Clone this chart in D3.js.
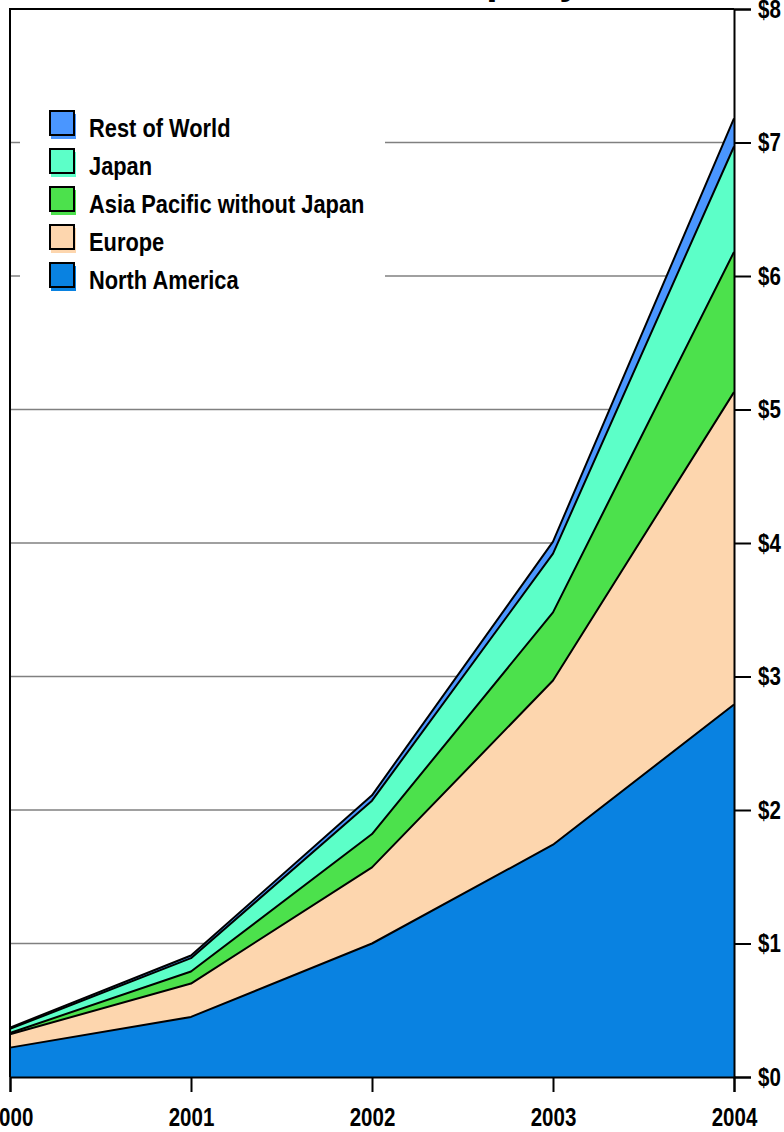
<!DOCTYPE html>
<html>
<head>
<meta charset="utf-8">
<script src="https://cdn.jsdelivr.net/npm/d3@7"></script>
<style>
  body { margin: 0; background: #fff; }
  svg text { font-family: "Liberation Sans", Arial, sans-serif; font-weight: bold; }
</style>
</head>
<body>
<div class="canvas"></div>
<script>
// data (billions of $)
const years = [2000, 2001, 2002, 2003, 2004];
const regions = ['North America', 'Europe', 'Asia Pacific without Japan', 'Japan', 'Rest of World'];
const northAmerica = [0.22, 0.45, 1.00, 1.74, 2.79];
const europe = [0.10, 0.25, 0.57, 1.23, 2.34];
const asiaPacific = [0.01, 0.09, 0.25, 0.51, 1.05];
const japan = [0.03, 0.10, 0.25, 0.44, 0.79];
const restOfWorld = [0.01, 0.02, 0.04, 0.09, 0.21];
const yTicks = [0, 1, 2, 3, 4, 5, 6, 7, 8];
const colors = ['#0982e1', '#fdd6ae', '#4ce14c', '#5cffc8', '#4a96ff'];

const seriesValues = [northAmerica, europe, asiaPacific, japan, restOfWorld];
const table = years.map((yr, i) => {
  const row = {year: yr};
  regions.forEach((r, j) => { row[r] = seriesValues[j][i]; });
  return row;
});

// no narrow font installed, so squeeze Liberation Sans Bold like Arial Narrow
const narrow = 0.82;

const svg = d3.select('.canvas')
  .append('svg')
    .attr('width', 784)
    .attr('height', 1132);

//plot box
const box = {left: 10, right: 734, top: 9, bottom: 1077};

const x = d3.scaleLinear()
  .domain([2000, 2004])
  .range([box.left, box.right]);
const y = d3.scaleLinear()
  .domain([0, 8])
  .range([box.bottom, box.top]);

// title, mostly off the top edge
svg.append('text')
  .attr('transform', `translate(582, -8) scale(${narrow}, 1)`)
  .attr('text-anchor', 'end')
  .attr('font-size', 50)
  .text('Worldwide Revenue of the Company');

// gridlines
svg.append('g')
  .selectAll('line')
  .data(yTicks.filter(d => d > 0 && d < 8))
  .enter()
  .append('line')
    .attr('x1', box.left)
    .attr('x2', box.right)
    .attr('y1', d => y(d))
    .attr('y2', d => y(d))
    .attr('stroke', '#808080')
    .attr('stroke-width', 1.5);

const stack = d3.stack().keys(regions);
const layers = stack(table);

const area = d3.area()
  .x(d => x(d.data.year))
  .y0(d => y(d[0]))
  .y1(d => y(d[1]));
const topLine = d3.line()
  .x(d => x(d.data.year))
  .y(d => y(d[1]));

const graph = svg.append('g');
graph.selectAll('path.area')
  .data(layers)
  .enter()
  .append('path')
    .attr('class', 'area')
    .attr('d', area)
    .attr('fill', (d, i) => colors[i]);
graph.selectAll('path.edge')
  .data(layers)
  .enter()
  .append('path')
    .attr('class', 'edge')
    .attr('d', topLine)
    .attr('fill', 'none')
    .attr('stroke', '#000')
    .attr('stroke-width', 2)
    .attr('stroke-linejoin', 'round');

// legend
const legend = svg.append('g');
legend.append('rect')
  .attr('x', 20)
  .attr('y', 95)
  .attr('width', 365)
  .attr('height', 210)
  .attr('fill', '#fff');
const items = legend.selectAll('g.item')
  .data(regions.slice().reverse())
  .enter()
  .append('g')
    .attr('class', 'item')
    .attr('transform', (d, i) => `translate(50, ${111 + i * 38})`);
items.append('rect')
  .attr('x', 1)
  .attr('y', 3)
  .attr('width', 25)
  .attr('height', 25)
  .attr('fill', d => colors[regions.indexOf(d)]);
items.append('rect')
  .attr('x', 0)
  .attr('y', 0)
  .attr('width', 24)
  .attr('height', 24)
  .attr('fill', d => colors[regions.indexOf(d)])
  .attr('stroke', '#000')
  .attr('stroke-width', 2);
items.append('text')
  .attr('transform', `translate(39, 26) scale(0.84, 1)`)
  .attr('font-size', 26)
  .text(d => d);

// frame
svg.append('path')
  .attr('d', `M${box.left},${box.bottom}V${box.top}H${box.right}`)
  .attr('fill', 'none')
  .attr('stroke', '#000')
  .attr('stroke-width', 2);

// axes
const xAxis = d3.axisBottom(x)
  .tickValues(years)
  .tickSize(15)
  .tickPadding(16)
  .tickFormat(d3.format('d'));
const yAxis = d3.axisRight(y)
  .tickValues(yTicks)
  .tickSize(17)
  .tickPadding(7)
  .tickFormat(d => '$' + d);

const xAxisGroup = svg.append('g')
  .attr('transform', `translate(0, ${box.bottom})`)
  .call(xAxis);
const yAxisGroup = svg.append('g')
  .attr('transform', `translate(${box.right}, 0)`)
  .call(yAxis);

[xAxisGroup, yAxisGroup].forEach(g => {
  g.attr('font-family', null);
  g.select('.domain').attr('stroke', '#000').attr('stroke-width', 2);
  g.selectAll('.tick line').attr('stroke', '#000').attr('stroke-width', 2);
  g.selectAll('.tick text').attr('font-size', 25).attr('fill', '#000');
});
xAxisGroup.selectAll('.tick text')
  .attr('transform', `scale(${narrow}, 1)`);
yAxisGroup.selectAll('.tick text')
  .attr('x', 0)
  .attr('transform', `translate(24, 0) scale(${narrow}, 1)`);
</script>
</body>
</html>
